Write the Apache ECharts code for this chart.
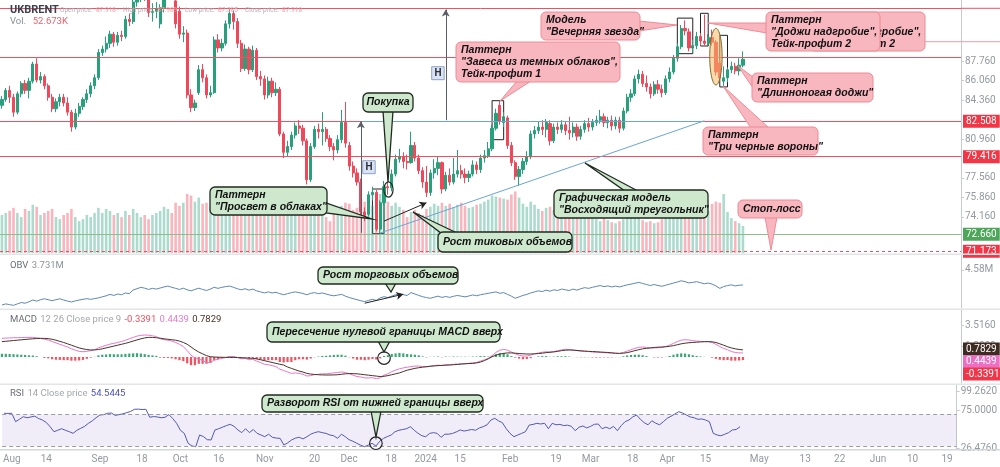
<!DOCTYPE html>
<html><head><meta charset="utf-8">
<script src="https://cdn.jsdelivr.net/npm/echarts/dist/echarts.min.js"></script>
<style>html,body{margin:0;padding:0;background:#fff}#c{width:1000px;height:467px}</style>
</head><body><div id="c"></div>
<script>
// ---------- DATA ----------
const holidays = ['2023-12-25','2024-01-01','2024-03-29'];
const tickDates = ['2023-08-01','2023-08-14','2023-09-01','2023-09-18','2023-10-02','2023-10-16','2023-11-01','2023-11-20','2023-12-01','2023-12-18','2024-01-02','2024-01-15','2024-02-01','2024-02-19','2024-03-01','2024-03-18','2024-04-01','2024-04-15','2024-05-01','2024-05-13','2024-05-22','2024-06-01','2024-06-10','2024-06-19'];
const tickLabels = ['Aug','14','Sep','18','Oct','16','Nov','20','Dec','18','2024','15','Feb','19','Mar','18','Apr','15','May','13','22','Jun','10','19'];

const opens = [83.9,84.4,85.2,84.6,83.3,84.9,85.8,85.2,86.0,87.5,
86.1,86.4,85.6,84.6,83.6,84.2,84.6,84.1,83.3,82.0,
83.2,83.8,84.4,84.9,85.6,86.3,88.5,88.8,89.3,90.1,
89.4,90.0,89.9,91.4,91.2,92.9,93.2,93.7,93.4,92.0,
92.1,91.0,92.4,93.6,95.5,93.0,92.1,90.1,90.2,84.8,
83.7,85.0,87.0,86.3,84.8,85.0,89.6,88.9,89.3,91.0,
91.9,91.2,89.3,87.1,88.8,87.0,88.7,86.4,86.2,84.8,
86.0,85.0,85.3,81.4,79.8,80.3,81.3,82.1,81.9,80.8,
77.4,80.3,81.8,81.6,81.8,81.0,80.3,80.0,80.9,82.4,
80.4,78.6,78.0,77.2,74.6,74.4,76.1,76.3,73.1,75.4,
76.8,76.7,77.9,79.2,79.4,79.0,78.9,80.4,79.3,78.2,
77.2,76.3,78.0,78.4,78.9,76.6,77.8,77.2,77.9,78.2,
77.9,77.6,77.9,78.7,78.3,79.3,79.5,80.1,81.9,83.9,
82.4,82.8,80.4,78.9,77.7,78.3,79.0,79.4,81.4,81.7,
82.0,81.8,82.3,80.8,82.0,81.8,82.2,81.7,81.5,82.0,
81.2,81.8,82.3,82.0,82.4,82.6,82.9,82.4,82.6,82.1,
82.6,81.9,83.4,84.6,84.9,86.2,86.6,85.8,85.5,84.9,
85.7,85.3,85.0,86.2,86.8,88.0,89.0,90.6,90.3,88.9,
89.1,89.9,89.5,89.3,89.8,89.4,87.6,86.0,86.3,87.0,
87.3,86.9,87.4];
const closes = [84.4,85.2,84.6,83.3,84.9,85.8,85.2,86.0,87.5,86.1,
86.4,85.6,84.6,83.6,84.2,84.6,84.1,83.3,82.0,83.2,
83.8,84.4,84.9,85.6,86.3,88.5,88.8,89.3,90.1,89.4,
90.0,89.9,91.4,91.2,92.9,93.2,93.7,93.4,92.0,92.1,
92.3,92.4,93.6,95.5,94.4,91.0,90.1,90.2,84.8,83.7,
84.1,87.0,86.3,84.8,85.0,89.6,88.9,89.3,91.0,91.9,
91.2,89.3,87.1,88.8,87.0,88.7,86.4,86.2,84.8,86.0,
85.0,85.3,81.4,79.8,80.3,81.3,82.1,81.9,80.8,77.4,
80.3,81.8,81.6,81.8,81.0,80.3,80.0,80.9,82.4,80.6,
78.6,78.0,77.2,74.6,74.3,76.1,76.3,73.1,75.4,76.8,
76.7,77.9,79.2,79.4,79.0,78.9,80.4,79.3,78.2,77.2,
76.3,78.0,78.4,78.9,76.6,77.8,77.2,77.9,78.2,77.9,
77.6,77.9,78.7,78.3,79.3,79.5,80.1,81.9,83.2,82.5,
82.9,80.4,78.9,77.7,78.3,79.0,79.4,81.4,81.7,82.0,
81.8,82.4,80.8,82.0,81.8,82.2,81.7,81.5,82.0,81.2,
81.8,82.3,82.0,82.4,82.6,82.9,82.4,82.6,82.1,82.6,
81.9,83.4,84.6,84.9,86.2,86.6,85.8,85.5,84.9,85.7,
85.3,85.0,86.2,86.8,88.0,89.0,90.6,90.4,88.9,89.1,
89.9,89.5,89.3,89.8,89.4,86.8,86.3,86.3,87.0,87.3,
86.9,87.4,87.918];
const highs = [84.7,85.4,85.6,84.9,85.1,86.0,86.1,86.3,87.7,88.0,
86.8,86.6,85.8,84.9,84.5,84.9,84.9,84.6,83.5,83.6,
84.1,84.6,85.3,85.9,86.6,88.8,89.1,89.9,90.4,90.3,
90.3,90.4,91.7,91.9,93.2,93.9,94.5,94.9,94.2,92.8,
92.9,92.7,93.9,96.0,96.4,93.6,92.5,90.8,90.5,85.3,
84.4,87.4,87.5,86.6,85.6,89.9,90.1,89.7,91.3,92.4,
92.2,91.5,89.6,89.2,89.0,89.1,88.9,86.9,86.5,86.4,
86.3,85.9,85.5,81.6,80.8,81.6,82.4,82.6,82.2,81.0,
80.6,82.1,82.3,83.3,82.0,81.3,80.6,81.3,83.5,84.2,
80.7,79.0,78.4,77.5,75.0,76.4,76.8,76.5,75.6,77.3,
77.2,78.3,79.6,80.1,79.8,79.6,81.6,80.7,79.6,78.5,
78.6,78.3,79.2,79.4,79.0,78.1,78.4,79.3,80.0,78.7,
78.4,78.2,79.1,79.0,79.6,80.0,80.7,82.2,83.6,84.3,
83.3,83.0,80.7,79.1,78.6,79.3,79.9,81.7,82.1,82.5,
82.6,82.7,82.6,82.3,82.4,82.6,82.5,82.9,82.4,82.3,
82.1,82.6,82.8,82.7,83.0,83.5,83.2,82.9,83.0,82.9,
82.9,83.7,84.9,85.3,86.5,87.0,86.9,86.5,85.8,86.0,
86.1,85.7,86.5,87.2,88.3,89.3,90.9,91.3,90.6,89.6,
90.3,90.2,91.8,90.1,90.5,89.6,87.9,87.3,87.2,87.7,
87.6,88.0,88.6];
const lows = [83.6,84.2,84.1,82.9,83.1,84.6,84.9,84.5,85.8,85.9,
85.8,85.3,84.3,83.3,83.3,83.8,83.8,83.0,81.6,81.8,
82.9,83.5,84.1,84.6,85.3,86.1,88.2,88.5,88.9,89.0,
89.1,89.5,89.7,90.8,91.0,92.5,92.9,93.0,91.6,91.2,
91.5,90.6,92.0,93.2,93.5,90.6,89.7,89.4,84.5,83.3,
83.4,84.8,85.9,84.5,84.6,84.9,88.5,88.6,89.1,90.6,
90.5,88.9,86.8,86.9,86.6,86.8,86.1,85.6,84.4,84.5,
84.6,84.7,81.2,79.3,79.4,80.0,81.0,81.4,80.4,77.0,
77.2,80.1,81.0,80.4,80.7,79.9,79.1,79.7,80.6,80.2,
78.2,77.6,76.9,74.3,73.8,74.2,75.6,72.9,72.76,75.2,
76.1,76.4,77.7,78.9,78.4,78.3,78.8,79.0,77.9,76.7,
75.9,76.0,77.5,77.8,76.2,76.4,76.9,77.0,77.6,77.5,
77.1,77.2,77.7,77.9,78.0,78.9,79.3,79.9,81.7,82.2,
82.0,80.1,78.6,77.4,76.9,77.9,78.7,79.2,81.0,81.4,
81.3,81.1,80.4,80.6,81.4,81.5,81.3,80.9,81.1,80.8,
80.9,81.5,81.6,81.7,82.1,82.3,82.0,81.9,81.7,81.8,
81.5,81.7,83.2,84.2,84.7,85.8,85.5,85.1,84.5,84.7,
84.9,84.6,84.8,85.9,86.6,87.7,88.8,90.0,88.6,88.5,
88.8,89.1,89.1,89.0,89.1,86.5,86.0,85.5,85.9,86.7,
86.6,86.5,87.2];
const volumes = [74,78,82,88,78,70,86,82,94,90,
74,78,82,86,70,66,74,78,86,70,
62,66,74,70,78,88,78,86,82,74,
78,70,82,74,86,78,70,74,66,74,
78,82,90,86,78,98,92,98,115,112,
100,108,96,98,90,110,104,96,100,108,
98,104,96,94,100,92,96,88,90,94,
86,82,104,100,92,88,86,82,90,98,
94,86,84,88,70,62,76,84,92,98,
96,84,88,104,100,96,92,110,115,106,
100,92,98,90,84,70,80,84,78,74,
86,90,96,92,98,92,96,90,94,98,
92,88,90,94,96,100,104,112,110,108,
106,104,114,120,108,96,90,100,94,86,
82,88,90,84,78,80,76,82,74,72,
78,76,70,72,66,62,70,64,60,58,
62,66,70,72,74,70,64,60,62,58,
60,66,68,76,80,84,82,86,80,78,
84,76,88,82,96,100,98,115,80,68,
62,58,52.673];
const obv = [2.60,2.66,2.62,2.58,2.66,2.74,2.70,2.78,2.88,2.82,2.90,
2.95,2.90,2.84,2.90,2.95,2.88,2.82,2.77,2.83,2.88,
2.92,2.96,2.92,2.96,3.00,3.06,3.12,3.20,3.14,3.22,
3.18,3.28,3.24,3.45,3.52,3.60,3.55,3.48,3.54,3.50,
3.56,3.62,3.67,3.60,3.54,3.48,3.55,3.46,3.40,3.48,
3.55,3.48,3.42,3.50,3.60,3.54,3.60,3.64,3.67,3.60,
3.52,3.46,3.52,3.44,3.50,3.40,3.34,3.28,3.34,3.28,
3.32,3.24,3.18,3.24,3.30,3.34,3.30,3.25,3.18,3.26,
3.30,3.24,3.28,3.22,3.16,3.12,3.16,3.20,3.10,3.02,
2.96,2.90,2.84,2.79,2.86,2.92,2.86,3.00,3.07,3.02,
3.10,3.18,3.24,3.18,3.14,3.30,3.22,3.14,3.07,3.02,
2.98,3.04,3.10,3.03,3.08,3.03,3.09,3.14,3.10,3.06,
3.11,3.17,3.12,3.18,3.22,3.26,3.30,3.34,3.26,3.30,
3.20,3.10,2.98,3.06,3.14,3.20,3.28,3.34,3.40,3.36,
3.44,3.38,3.46,3.42,3.50,3.46,3.42,3.50,3.44,3.52,
3.58,3.54,3.60,3.65,3.70,3.64,3.68,3.62,3.67,3.62,
3.68,3.74,3.78,3.83,3.88,3.82,3.76,3.70,3.76,3.70,
3.66,3.72,3.78,3.84,3.90,3.97,3.92,3.85,3.88,3.92,
3.86,3.80,3.84,3.78,3.68,3.54,3.64,3.70,3.74,3.68,3.72,3.731];
const macd = [2.05,2.08,2.1,2.12,2.13,2.14,2.15,2.16,2.16,2.12,2.05,
1.95,1.87,1.7,1.55,1.4,1.25,1.1,0.9,0.75,0.62,
0.58,0.62,0.7,0.8,1.0,1.15,1.28,1.42,1.5,1.6,
1.7,1.85,2.0,2.15,2.3,2.38,2.42,2.4,2.33,2.25,
2.0,1.9,1.85,1.75,1.6,1.4,1.15,0.7,0.2,-0.1,
-0.2,-0.4,-0.6,-0.62,-0.35,-0.25,-0.15,-0.05,0.05,0.05,
-0.05,-0.2,-0.15,-0.3,-0.25,-0.45,-0.6,-0.8,-0.85,-0.95,
-1.05,-1.35,-1.48,-1.65,-1.8,-1.75,-1.8,-1.9,-2.09,-2.05,
-1.95,-1.9,-1.85,-1.85,-1.8,-1.75,-1.7,-1.65,-1.7,-1.85,
-2.0,-2.15,-2.2,-2.3,-2.3,-2.28,-2.38,-2.3,-2.0,-1.85,
-1.61,-1.45,-1.3,-1.2,-1.12,-1.06,-1.0,-1.0,-1.05,-1.1,
-1.0,-0.95,-0.9,-0.95,-0.85,-0.85,-0.8,-0.78,-0.75,-0.72,
-0.7,-0.65,-0.6,-0.45,-0.3,-0.15,0.15,0.5,0.75,0.84,
0.75,0.55,0.35,0.2,0.1,0.1,0.2,0.35,0.45,0.52,
0.58,0.55,0.6,0.7,0.78,0.84,0.82,0.75,0.7,0.65,
0.62,0.6,0.55,0.52,0.5,0.48,0.45,0.42,0.4,0.38,
0.5,0.65,0.8,0.95,1.06,1.1,1.05,1.0,1.0,1.02,
1.05,1.15,1.3,1.5,1.7,1.85,1.9,1.87,1.8,1.75,
1.72,1.7,1.69,1.6,1.4,1.15,0.95,0.8,0.6,0.5,0.45,0.4439];
const signal = [1.69,1.73,1.77,1.81,1.85,1.89,1.93,1.97,2.0,2.03,2.05,
2.05,2.02,1.95,1.85,1.72,1.6,1.45,1.3,1.15,1.0,
0.9,0.82,0.77,0.78,0.82,0.9,1.0,1.1,1.2,1.3,
1.4,1.5,1.62,1.75,1.88,2.0,2.1,2.16,2.15,2.12,
2.07,2.0,1.95,1.9,1.85,1.75,1.6,1.4,1.1,0.8,
0.55,0.35,0.15,0.03,0.0,-0.02,-0.03,-0.04,-0.05,-0.05,
-0.06,-0.08,-0.1,-0.12,-0.15,-0.2,-0.3,-0.4,-0.5,-0.6,
-0.7,-0.8,-0.88,-1.1,-1.25,-1.4,-1.55,-1.65,-1.8,-1.88,
-1.92,-1.95,-1.97,-1.98,-1.98,-1.97,-1.95,-1.9,-1.85,-1.82,
-1.83,-1.85,-1.9,-1.95,-2.0,-2.05,-2.1,-2.15,-2.12,-2.05,
-1.95,-1.85,-1.75,-1.6,-1.45,-1.35,-1.25,-1.18,-1.12,-1.06,
-1.02,-0.98,-0.95,-0.92,-0.9,-0.88,-0.85,-0.82,-0.78,-0.75,
-0.72,-0.7,-0.65,-0.55,-0.4,-0.2,0.03,0.2,0.32,0.4,
0.45,0.45,0.42,0.38,0.35,0.33,0.33,0.35,0.38,0.42,
0.48,0.52,0.56,0.62,0.7,0.75,0.77,0.76,0.72,0.68,
0.65,0.62,0.6,0.58,0.55,0.52,0.5,0.46,0.42,0.4,
0.42,0.48,0.58,0.7,0.8,0.9,0.95,1.0,1.05,1.08,
1.1,1.13,1.18,1.25,1.35,1.45,1.52,1.57,1.6,1.63,
1.66,1.68,1.69,1.67,1.6,1.45,1.3,1.13,1.0,0.9,0.83,0.7829];
const hist = [0.36,0.35,0.33,0.31,0.28,0.25,0.22,0.19,0.16,0.09,0.0,
-0.1,-0.15,-0.25,-0.3,-0.32,-0.35,-0.35,-0.4,-0.4,-0.38,
-0.32,-0.2,-0.07,0.02,0.18,0.25,0.28,0.32,0.3,0.3,
0.3,0.35,0.38,0.4,0.42,0.38,0.32,0.24,0.18,0.13,
-0.07,-0.1,-0.1,-0.15,-0.25,-0.35,-0.45,-0.7,-0.9,-0.9,
-0.75,-0.75,-0.75,-0.65,-0.35,-0.23,-0.12,-0.01,0.1,0.1,
0.01,-0.12,-0.05,-0.18,-0.1,-0.25,-0.3,-0.4,-0.35,-0.35,
-0.35,-0.55,-0.6,-0.55,-0.55,-0.35,-0.25,-0.25,-0.29,-0.17,
-0.03,0.05,0.12,0.13,0.18,0.22,0.25,0.25,0.15,-0.03,
-0.17,-0.3,-0.3,-0.35,-0.3,-0.23,-0.28,-0.15,0.12,0.2,
0.34,0.4,0.45,0.4,0.33,0.29,0.25,0.18,0.07,-0.04,
0.02,0.03,0.05,-0.03,0.05,0.03,0.05,0.04,0.03,0.03,
0.02,0.05,0.05,0.1,0.1,0.05,0.12,0.3,0.43,0.44,
0.3,0.1,-0.07,-0.18,-0.25,-0.23,-0.13,0.0,0.07,0.1,
0.1,0.03,0.04,0.08,0.08,0.09,0.05,-0.01,-0.02,-0.03,
-0.03,-0.02,-0.05,-0.06,-0.05,-0.04,-0.05,-0.04,-0.02,-0.02,
0.08,0.17,0.22,0.25,0.26,0.2,0.1,0.0,-0.05,-0.06,
-0.05,0.02,0.12,0.25,0.35,0.4,0.38,0.3,0.2,0.12,
0.06,0.02,0.0,-0.07,-0.2,-0.3,-0.35,-0.33,-0.4,-0.4,-0.38,-0.3391];
const rsi = [71.7,71.5,71.7,61,64,67.3,66,67,68,65,63.1,
60,54.6,48.2,50,52,50,48.2,46.1,50,52.5,
55,58.9,62,66,69.5,70,71.7,72,69,70,
71,72.5,74,76.8,77,76.5,76.8,66.6,67.5,67,
66,66.6,70,65,58.9,50,46.1,33.4,30,29,
44,42,38,37.6,50.4,52,54,56,57.6,55,
50.4,47,52,47,51,46.1,44,41.8,45,41,
40,39.7,31.2,34,37.6,40,41,39,41.8,45,
47,48.2,47,46,44,43,39.7,45,41.8,38,
36,33.4,31,29,31,33.4,30,36,39.7,42,
44,48.2,50,51,52,54.6,50,46.1,43,41.8,
46,47,46,41,45,45,46,48,50.4,49,
50,51,50,53,54.6,57,63,65.3,62,59.7,
52,46,41.8,44,46,48.2,56.7,57.5,58.9,58,
59,52,58.9,57,57.5,56,56.5,55,49.5,54,
55.5,53,55,57.6,58,52,54,52,55,49.5,
56,61,63.1,67,69.5,64,59.7,57,62.2,59,
57,61,65.3,68,70.8,73.7,72,69.5,67,66,
64,64.5,63.1,61,46.1,44,43,44.9,47,50.4,51,54.5445];
const priceTicks = [74.16,75.86,77.56,80.96,84.36,86.06,87.76];
const obvTicks = [4.58];
const macdTicks = [3.516,1.2];
const rsiTicks = [26.476,75,99.262];

// ---------- CATEGORIES (trading days, then calendar days) ----------
const categories = [];
(function(){
  let t = Date.UTC(2023,6,28);
  const lastTrade = Date.UTC(2024,3,26), lastDay = Date.UTC(2024,5,21);
  while (t <= lastDay) {
    const d = new Date(t), s = d.toISOString().slice(0,10), wd = d.getUTCDay();
    if (t > lastTrade || (wd !== 0 && wd !== 6 && holidays.indexOf(s) < 0)) categories.push(s);
    t += 86400000;
  }
})();

const UP = '#26a17b', DOWN = '#f0475a';
const FONT = 'Roboto, "Liberation Sans", sans-serif';
const candleData = opens.map((o,i)=>[o, closes[i], lows[i], highs[i]]);
const volData = volumes.map((v,i)=>({value:v, itemStyle:{color: closes[i]>=opens[i] ? 'rgba(38,161,123,0.38)' : 'rgba(240,71,90,0.4)'}}));
const histData = hist.map(v=>({value:v, itemStyle:{color: v>=0 ? '#3aa876' : '#f2525f'}}));

const grids = [
  {left:0, top:0, width:961, height:253},
  {left:0, top:255, width:961, height:53},
  {left:0, top:310, width:961, height:73},
  {left:0, top:385, width:961, height:64}
];
const xAx = (gi, show) => ({type:'category', gridIndex:gi, data:categories, boundaryGap:true,
  axisLine:{show:show, lineStyle:{color:'#d3d5da'}}, axisTick:{show:false}, splitLine:{show:false},
  axisLabel:{show:show, interval:(idx,val)=>tickDates.indexOf(val)>=0,
    formatter:(val)=>tickLabels[tickDates.indexOf(val)], color:'#9598a1', fontSize:10, fontFamily:FONT, margin:5}});
const yAx = (gi, min, max, vals, fmt) => ({type:'value', gridIndex:gi, position:'right', min:min, max:max,
  axisLine:{show:true, lineStyle:{color:'#c8cad0'}},
  axisTick:{show:true, length:3, customValues:vals, lineStyle:{color:'#c8cad0'}},
  axisLabel:{show:true, customValues:vals, formatter:fmt, color:'#9598a1', fontSize:10, fontFamily:FONT, margin:4},
  splitLine:{show:false}});

const tagLabel = (bg, txt) => ({show:true, position:'end', formatter:txt, backgroundColor:bg, color:'#fff',
  padding:[2,3,1,3], fontSize:10, fontFamily:FONT, distance:2});
const level = (v, color, type, tagBg, txt) => ({yAxis:v, lineStyle:{color:color, width:1, type:type},
  label: tagBg ? tagLabel(tagBg, txt) : {show:false}});
const arrowLine = (a, b, color) => [{coord:a, lineStyle:{color:color, width:1, type:'solid'}, label:{show:false}},
  {coord:b, symbol:'arrow', symbolSize:[6,7]}];

const option = {
  animation:false, backgroundColor:'#ffffff',
  grid: grids,
  xAxis: [xAx(0,false), xAx(1,false), xAx(2,false), xAx(3,true)],
  yAxis: [
    yAx(0, 71.02, 93.08, priceTicks, v=>v.toFixed(3)),
    {type:'value', gridIndex:0, min:0, max:493, show:false},
    yAx(1, 2.429, 5.429, obvTicks, v=>v.toFixed(2)+'M'),
    yAx(2, -2.86, 5.17, macdTicks, v=>v.toFixed(4)),
    yAx(3, 26.09, 107.82, rsiTicks, v=>v.toFixed(4))
  ],
  series: [
    {type:'candlestick', xAxisIndex:0, yAxisIndex:0, data:candleData, barWidth:2.7, z:3,
      itemStyle:{color:UP, color0:DOWN, borderColor:UP, borderColor0:DOWN, borderWidth:1},
      markLine:{silent:true, symbol:['none','none'], animation:false, data:[
        level(92.356, '#f0505f', 'solid'),
        level(88.11, '#f0505f', 'solid'),
        level(82.508, '#f0505f', 'solid', '#f23645', '82.508'),
        level(79.416, '#f0505f', 'solid', '#f23645', '79.416'),
        level(72.660, '#8cbf8c', 'solid', '#4ea65a', '72.660'),
        level(71.173, '#f0505f', [3,3], '#f23645', '71.173'),
        [{coord:[93,82.55], lineStyle:{color:'#6aa5d6', width:1, type:'solid'}, label:{show:false}}, {coord:[182,82.55]}],
        [{coord:[98,72.76], lineStyle:{color:'#6aa5d6', width:1, type:'solid'}, label:{show:false}}, {coord:[182,82.55]}],
        arrowLine([93,72.78],[93,82.5],'#5a5e66'),
        arrowLine([115,82.6],[115,92.25],'#5a5e66'),
        arrowLine([99,73.8],[110,75.4],'#222')
      ]},
      markArea:{silent:true, itemStyle:{color:'rgba(0,0,0,0)', borderColor:'#222', borderWidth:1}, data:[
        [{coord:[96,76.6]},{coord:[99,72.7]}],
        [{coord:[127,84.3]},{coord:[130,80.9]}],
        [{coord:[175,91.5]},{coord:[179,88.4]}],
        [{coord:[181,91.92]},{coord:[183,89.07]}],
        [{coord:[186,90.0]},{coord:[188,85.5]}]
      ]}
    },
    {type:'bar', xAxisIndex:0, yAxisIndex:1, data:volData, barWidth:2.6, z:1},
    {type:'line', xAxisIndex:1, yAxisIndex:2, data:obv, symbol:'none', lineStyle:{color:'#5e88b3', width:1},
      markLine:{silent:true, symbol:['none','none'], animation:false, data:[
        {yAxis:3.731, lineStyle:{opacity:0}, label:tagLabel('#4670b0','3.731M')},
        arrowLine([94,2.70],[104,3.21],'#222')
      ]}},
    {type:'bar', xAxisIndex:2, yAxisIndex:3, data:histData, barWidth:2.2},
    {type:'line', xAxisIndex:2, yAxisIndex:3, data:macd, symbol:'none', lineStyle:{color:'#ea78c6', width:1}},
    {type:'line', xAxisIndex:2, yAxisIndex:3, data:signal, symbol:'none', lineStyle:{color:'#4a3327', width:1}},
    {type:'line', xAxisIndex:3, yAxisIndex:4, data:rsi, symbol:'none', lineStyle:{color:'#5458b0', width:1},
      markArea:{silent:true, itemStyle:{color:'rgba(126,87,194,0.11)'}, data:[[{yAxis:30},{yAxis:70}]]},
      markLine:{silent:true, symbol:['none','none'], animation:false, data:[
        {yAxis:70, lineStyle:{color:'#9c9ca6', width:1, type:[4,3]}, label:{show:false}},
        {yAxis:30, lineStyle:{color:'#9c9ca6', width:1, type:[4,3]}, label:{show:false}},
        {yAxis:54.5445, lineStyle:{opacity:0}, label:tagLabel('#2f35c8','54.5445')}
      ]}}
  ]
};

const chart = echarts.init(document.getElementById('c'));
chart.setOption(option);

// ---------- ANNOTATIONS ----------
const CF = 'italic bold 10.5px "Liberation Sans", Arial, sans-serif';
const G = [];
function txt(x, y, text, font, fill, align) {
  G.push({type:'text', z:120, style:{x:x, y:y, text:text, font:font, fill:fill, textAlign:align||'left', textVerticalAlign:'middle'}});
}
function callout(c) {
  const green = c.k === 'g';
  const fill = green ? '#cde8cd' : '#f8b7be';
  const stroke = green ? '#1f2a1f' : '#ef8a95';
  const lw = green ? 1.3 : 1;
  const z0 = c.z || 110;
  if (c.tail) G.push({type:'polygon', z:z0, shape:{points:c.tail}, style:{fill:fill, stroke:stroke, lineWidth:lw}});
  G.push({type:'rect', z:z0+1, shape:{x:c.x, y:c.y, width:c.w, height:c.h, r:5}, style:{fill:fill, stroke:stroke, lineWidth:lw}});
  const n = c.lines.length;
  c.lines.forEach((t, j) => {
    const yy = n === 1 ? c.y + c.h/2 : c.y + 8 + j*12.3;
    G.push({type:'text', z:z0+2, style:{x:(c.center ? c.x + c.w/2 : c.x + (c.tx||5)), y:yy, text:t, font:CF, fill:'#111',
      textAlign:c.center ? 'center' : 'left', textVerticalAlign:'middle'}});
  });
}
const callouts = [
  {x:210,y:187,w:117,h:28,k:'g',lines:['Паттерн','"Просвет в облаках"'], tail:[[326,203],[326,213],[372,219]]},
  {x:363,y:93,w:50,h:19,k:'g',lines:['Покупка'], center:true, tail:[[383,111],[393,111],[388,182]]},
  {x:438,y:232,w:134,h:20,k:'g',lines:['Рост тиковых объемов'], tail:[[413,212],[441,233],[457,233]]},
  {x:456,y:42,w:164,h:40,k:'p',lines:['Паттерн','"Завеса из темных облаков",','Тейк-профит 1'], tail:[[517,81],[531,81],[500,101]]},
  {x:541,y:12,w:99,h:28,k:'p',lines:['Модель','"Вечерняя звезда"'], tail:[[639,21],[639,31],[677,25]]},
  {x:810,y:12,w:115,h:39,k:'p',z:104,lines:['Паттерн','"Доджи надгробие",','Тейк-профит 2']},
  {x:766,y:12,w:114,h:39,k:'p',lines:['Паттерн','"Доджи надгробие",','Тейк-профит 2'], tail:[[767,23],[767,33],[708,23]]},
  {x:752,y:73,w:121,h:29,k:'p',lines:['Паттерн','"Длинноногая доджи"'], tail:[[753,77],[753,88],[738,66]]},
  {x:703,y:127,w:115,h:28,k:'p',lines:['Паттерн','"Три черные вороны"'], tail:[[723,86],[751,128],[769,128]]},
  {x:554,y:190,w:154,h:28,k:'g',lines:['Графическая модель','"Восходящий треугольник"'], tail:[[585,163],[625,191],[638,191]]},
  {x:738,y:200,w:64,h:18,k:'p',lines:['Стоп-лосс'], tail:[[765,217],[777,217],[771,250]]},
  {x:318,y:267,w:140,h:17,k:'g',lines:['Рост торговых объемов'], tail:[[385,283],[396,283],[391,292]]},
  {x:267,y:322,w:233,h:20,k:'g',lines:['Пересечение нулевой границы MACD вверх'], tail:[[378,341],[390,341],[384,352]]},
  {x:262,y:395,w:221,h:17,k:'g',lines:['Разворот RSI от нижней границы вверх'], tail:[[371,411],[381,411],[376,437]]}
];

// separators and frame
[253.5, 308.5, 383.5].forEach(y => G.push({type:'rect', z:50, shape:{x:0, y:y, width:1000, height:1.6}, style:{fill:'#e3e4e8'}}));
G.push({type:'rect', z:50, shape:{x:0, y:449, width:1000, height:1.4}, style:{fill:'#d6d7dc'}});

// extension lines on the right
const pTop = chart.convertToPixel({seriesIndex:0}, [0, 92.356]);
G.push({type:'line', z:60, shape:{x1:961, y1:pTop[1], x2:1000, y2:pTop[1]}, style:{stroke:'#f0505f', lineWidth:1}});
G.push({type:'line', z:60, shape:{x1:925, y1:41.7, x2:1000, y2:41.7}, style:{stroke:'#f39aa4', lineWidth:1}});

callouts.forEach(callout);

// ellipses and circles anchored to data
const pBuy = chart.convertToPixel({seriesIndex:0}, [100, 76.56]);
G.push({type:'ellipse', z:100, shape:{cx:pBuy[0]+0.6, cy:pBuy[1], rx:4.6, ry:7.6}, style:{fill:'none', stroke:'#1f2a1f', lineWidth:1.2}});
const pCrow = chart.convertToPixel({seriesIndex:0}, [185, 88.14]);
G.push({type:'ellipse', z:99, shape:{cx:pCrow[0], cy:pCrow[1], rx:6.2, ry:28.3}, style:{fill:'rgba(248,186,100,0.55)', stroke:'#7d6a2a', lineWidth:1}});
const pMacd = chart.convertToPixel({seriesIndex:4}, [99, -0.12]);
G.push({type:'circle', z:100, shape:{cx:pMacd[0], cy:pMacd[1], r:6.3}, style:{fill:'none', stroke:'#222', lineWidth:1.2}});
const pRsi = chart.convertToPixel({seriesIndex:6}, [97, 33.5]);
G.push({type:'circle', z:100, shape:{cx:pRsi[0], cy:pRsi[1], r:6.3}, style:{fill:'none', stroke:'#222', lineWidth:1.2}});

// "Н" boxes
[[362.7,160.7],[431.7,66.7]].forEach(p => {
  G.push({type:'rect', z:101, shape:{x:p[0], y:p[1], width:12.5, height:13}, style:{fill:'#dae3f4', stroke:'#8ea2c9', lineWidth:1}});
  G.push({type:'text', z:102, style:{x:p[0]+6.25, y:p[1]+6.8, text:'Н', font:'bold 10px Roboto, sans-serif', fill:'#2a2e39', textAlign:'center', textVerticalAlign:'middle'}});
});

// header texts
txt(10, 10, 'UKBRENT', 'bold 11px ' + FONT, '#3d4150');
const small = (x, label, val) => G.push({type:'text', z:120, style:{x:x, y:10, textVerticalAlign:'middle',
  text:'{l|' + label + '} {v|' + val + '}', rich:{l:{fontSize:6.5, fontFamily:FONT, fill:'#aeb1ba'}, v:{fontSize:6.5, fontFamily:FONT, fill:'#f59aa5'}}}});
small(60, 'Open price:', '87.918');
small(123, 'High price:', '87.989');
small(185, 'Low price:', '87.385');
small(245, 'Close price:', '87.918');
G.push({type:'text', z:120, style:{x:10, y:22, textVerticalAlign:'middle', text:'{l|Vol.}  {v|52.673K}',
  rich:{l:{fontSize:9.5, fontFamily:FONT, fill:'#8a8d96'}, v:{fontSize:9.5, fontFamily:FONT, fill:'#f0606d'}}}});
G.push({type:'text', z:120, style:{x:10, y:266, textVerticalAlign:'middle', text:'{a|OBV} {b|3.731M}',
  rich:{a:{fontSize:9.5, fontFamily:FONT, fill:'#6a6d78'}, b:{fontSize:9.5, fontFamily:FONT, fill:'#8f929c'}}}});
G.push({type:'text', z:120, style:{x:10, y:320, textVerticalAlign:'middle',
  text:'{a|MACD} {b|12 26 Close price 9} {r|-0.3391} {p|0.4439} {d|0.7829}',
  rich:{a:{fontSize:9.5, fontFamily:FONT, fill:'#6a6d78'}, b:{fontSize:9.5, fontFamily:FONT, fill:'#a3a6ae'},
    r:{fontSize:9.5, fontFamily:FONT, fill:'#f0505f'}, p:{fontSize:9.5, fontFamily:FONT, fill:'#e67bc6'}, d:{fontSize:9.5, fontFamily:FONT, fill:'#4a3327'}}}});
G.push({type:'text', z:120, style:{x:10, y:394, textVerticalAlign:'middle', text:'{a|RSI} {b|14 Close price} {v|54.5445}',
  rich:{a:{fontSize:9.5, fontFamily:FONT, fill:'#6a6d78'}, b:{fontSize:9.5, fontFamily:FONT, fill:'#a3a6ae'}, v:{fontSize:9.5, fontFamily:FONT, fill:'#4a50c0'}}}});

// MACD value tags on the right scale
[[349,'0.7829','#3e2c22'],[361.7,'0.4439','#ec6fc4'],[374,'-0.3391','#f2364a']].forEach(t => {
  G.push({type:'text', z:130, style:{x:963, y:t[0], text:t[1], font:'10px ' + FONT, fill:'#fff', backgroundColor:t[2],
    padding:[2,3,1,3], textVerticalAlign:'middle'}});
});

chart.setOption({graphic: G});
</script></body></html>
